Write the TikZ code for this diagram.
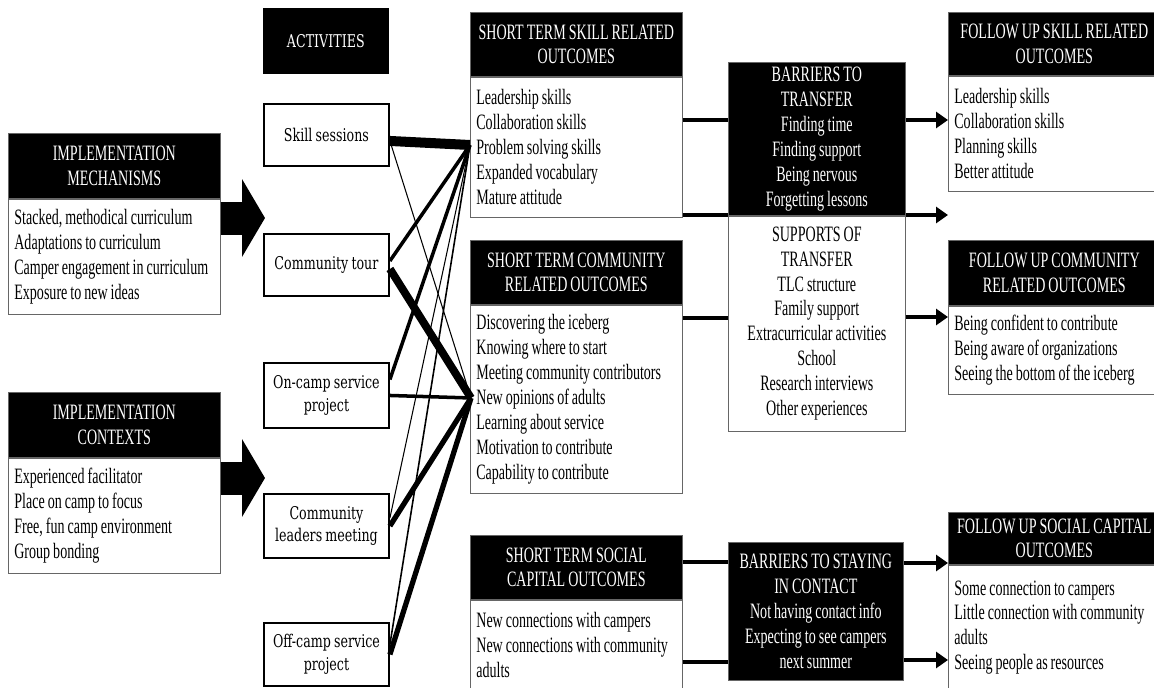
\documentclass[tikz,border=0pt]{standalone}
\usepackage{fontspec}
\setmainfont[FakeStretch=0.64,WordSpace=0.85]{Liberation Serif}
\newfontfamily\actfont[FakeStretch=0.72,WordSpace=0.8]{DejaVu Serif}
\usetikzlibrary{arrows.meta,positioning,calc}

\tikzset{
  txt/.style={font=\fontsize{12.5}{14.2}\selectfont},
  hdr/.style={txt,fill=black,draw=black!60,text=white,align=flush center,inner xsep=0.1cm,inner ysep=0pt},
  body/.style={txt,fill=white,draw=black!60,align=flush left,inner xsep=0.12cm,inner ysep=0pt},
  act/.style={draw,line width=1.1pt,fill=white,align=flush center,text width=2.3cm,inner xsep=0.1cm,
    font=\actfont\fontsize{10}{13}\selectfont},
  bigarrow/.style={line width=0.66cm,-{Triangle[length=0.46cm,width=1.54cm]}},
  flowline/.style={line width=2.8pt},
  flowarrow/.style={flowline,-{Triangle[length=0.24cm,width=0.32cm]}}
}

\begin{document}
\begin{tikzpicture}[x=0.02cm,y=-0.02cm]
  \useasboundingbox (0,0) rectangle (1154,687);
  % implementation
  \node[hdr,text width=4.04cm,minimum height=1.3cm,anchor=north west] (mechh) at (8,133) {IMPLEMENTATION\\MECHANISMS};
  \node[body,text width=4.0cm,minimum height=2.3cm,below=0pt of mechh] (mechb) {Stacked, methodical curriculum\\Adaptations to curriculum\\Camper engagement in curriculum\\Exposure to new ideas};
  \node[hdr,text width=4.04cm,minimum height=1.3cm,anchor=north west] (ctxh) at (8,392) {IMPLEMENTATION\\CONTEXTS};
  \node[body,text width=4.0cm,minimum height=2.3cm,below=0pt of ctxh] (ctxb) {Experienced facilitator\\Place on camp to focus\\Free, fun camp environment\\Group bonding};
  \coordinate (mecharr) at (265,218);
  \coordinate (ctxarr) at (265,478);
  \draw[bigarrow] (mechb.east |- mecharr) -- (mecharr);
  \draw[bigarrow] (ctxb.east |- ctxarr) -- (ctxarr);

  % activities
  \node[act,fill=black,text=white,draw=black,line width=0.4pt,minimum height=1.3cm,anchor=north west] (acth) at (263,8) {ACTIVITIES};
  \node[act,minimum height=1.24cm,anchor=north west] (ses) at (263,103) {Skill sessions};
  \node[act,minimum height=1.24cm,anchor=north west] (tour) at (263,233) {Community tour};
  \node[act,minimum height=1.3cm,anchor=north west] (onc) at (263,362) {On-camp service\\project};
  \node[act,minimum height=1.28cm,anchor=north west] (clm) at (263,493) {Community\\leaders meeting};
  \node[act,minimum height=1.26cm,anchor=north west] (off) at (263,622) {Off-camp service\\project};

  % short term outcomes
  \node[hdr,text width=4.04cm,minimum height=1.28cm,anchor=north west] (stsh) at (470,12) {SHORT TERM SKILL RELATED\\OUTCOMES};
  \node[body,text width=4.0cm,minimum height=2.8cm,below=0pt of stsh] (stsb) {Leadership skills\\Collaboration skills\\Problem solving skills\\Expanded vocabulary\\Mature attitude};
  \node[hdr,text width=4.04cm,minimum height=1.28cm,anchor=north west] (stch) at (470,240) {SHORT TERM COMMUNITY\\RELATED OUTCOMES};
  \node[body,text width=4.0cm,minimum height=3.76cm,below=0pt of stch] (stcb) {Discovering the iceberg\\Knowing where to start\\Meeting community contributors\\New opinions of adults\\Learning about service\\Motivation to contribute\\Capability to contribute};
  \node[hdr,text width=4.04cm,minimum height=1.28cm,anchor=north west] (stph) at (470,535) {SHORT TERM SOCIAL\\CAPITAL OUTCOMES};
  \node[body,text width=4.0cm,minimum height=1.8cm,below=0pt of stph] (stpb) {New connections with campers\\New connections with community\\adults};

  % activity links
  \coordinate (skconv) at (470,145);
  \coordinate (coconv) at (471,398);
  \draw[line width=5.7pt] ([yshift=-0.12cm]ses.east) -- (skconv);
  \draw[line width=0.6pt] ([yshift=-0.12cm]ses.east) -- (coconv);
  \draw[line width=2pt] ([yshift=0.08cm]tour.east) -- (skconv);
  \draw[line width=4.5pt] ([yshift=-0.08cm]tour.east) -- (coconv);
  \draw[line width=2pt] ([yshift=0.32cm]onc.east) -- (skconv);
  \draw[line width=2pt] (onc.east) -- (coconv);
  \draw[line width=0.6pt] ([yshift=0.16cm]clm.east) -- (skconv);
  \draw[line width=3pt] (clm.east) -- (coconv);
  \draw[line width=0.9pt] ([yshift=0.2cm]off.east) -- (skconv);
  \draw[line width=3pt] (off.east) -- (coconv);

  % barriers and supports
  \node[hdr,text width=3.34cm,minimum height=3.06cm,anchor=north west] (bt) at (728,62) {BARRIERS TO\\TRANSFER\\Finding time\\Finding support\\Being nervous\\Forgetting lessons};
  \node[body,align=flush center,inner xsep=0.1cm,text width=3.34cm,minimum height=4.3cm,below=0pt of bt] (spt) {SUPPORTS OF\\TRANSFER\\TLC structure\\Family support\\Extracurricular activities\\School\\Research interviews\\Other experiences};
  \node[hdr,text width=3.3cm,minimum height=2.76cm,anchor=north west] (bc) at (728,542) {BARRIERS TO STAYING\\IN CONTACT\\Not having contact info\\Expecting to see campers\\next summer};

  % follow up outcomes
  \node[hdr,text width=4.04cm,minimum height=1.26cm,anchor=north west] (fsh) at (948,12) {FOLLOW UP SKILL RELATED\\OUTCOMES};
  \node[body,text width=4.0cm,minimum height=2.3cm,below=0pt of fsh] (fsb) {Leadership skills\\Collaboration skills\\Planning skills\\Better attitude};
  \node[hdr,text width=4.04cm,minimum height=1.3cm,anchor=north west] (fch) at (948,240) {FOLLOW UP COMMUNITY\\RELATED OUTCOMES};
  \node[body,text width=4.0cm,minimum height=1.76cm,below=0pt of fch] (fcb) {Being confident to contribute\\Being aware of organizations\\Seeing the bottom of the iceberg};
  \node[hdr,text width=4.04cm,minimum height=1.04cm,anchor=north west] (fph) at (948,512) {FOLLOW UP SOCIAL CAPITAL\\OUTCOMES};
  \node[body,text width=4.0cm,minimum height=2.5cm,below=0pt of fph] (fpb) {Some connection to campers\\Little connection with community\\adults\\Seeing people as resources};

  % flows
  \coordinate (gap) at (948,215);
  \draw[flowline] (stsb.east |- 0,120) -- (bt.west |- 0,120);
  \draw[flowline] (stsb.east |- 0,215) -- (bt.west |- 0,215);
  \draw[flowline] (stcb.east |- 0,318) -- (spt.west |- 0,318);
  \draw[flowline] (stph.east |- 0,562) -- (bc.west |- 0,562);
  \draw[flowline] (stpb.east |- 0,662) -- (bc.west |- 0,662);
  \draw[flowarrow] (bt.east |- 0,120) -- (fsb.west |- 0,120);
  \draw[flowarrow] (bt.east |- gap) -- (gap);
  \draw[flowarrow] (spt.east |- 0,317) -- (fcb.west |- 0,317);
  \draw[flowarrow] (bc.east |- 0,563) -- (fph.west |- 0,563);
  \draw[flowarrow] (bc.east |- 0,660) -- (fpb.west |- 0,660);
\end{tikzpicture}
\end{document}
